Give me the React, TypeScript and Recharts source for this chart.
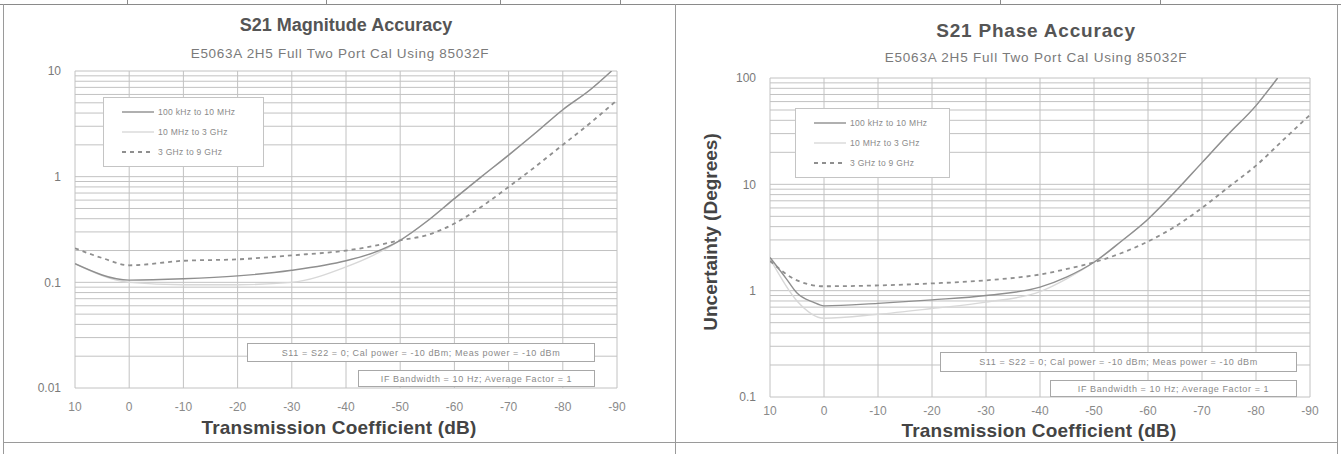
import React from 'react';
import { LineChart, Line, XAxis, YAxis, CartesianGrid, Legend } from 'recharts';

const FONT = 'Arial, "Liberation Sans", Helvetica, sans-serif';

// shared x axis (transmission coefficient, dB)
const xTicks = [10, 0, -10, -20, -30, -40, -50, -60, -70, -80, -90];
const xTickLabels = ['10', '0', '-10', '-20', '-30', '-40', '-50', '-60', '-70', '-80', '-90'];

const seriesNames = ['100 kHz to 10 MHz', '10 MHz to 3 GHz', '3 GHz to 9 GHz'];

// S21 magnitude accuracy (dB), log axis
const magDecades = [0.01, 0.1, 1, 10];
const magSolidX = [10, 0, -10, -20, -30, -40, -45, -50, -55, -60, -65, -70, -75, -80, -85, -89];
const magSolidY = [0.15, 0.105, 0.108, 0.115, 0.13, 0.16, 0.19, 0.25, 0.38, 0.62, 1.0, 1.6, 2.6, 4.3, 6.6, 10];
const magFaintX = [10, 0, -10, -20, -30, -40, -45, -50, -55, -60, -65, -70, -75, -80, -85, -89];
const magFaintY = [0.15, 0.1, 0.095, 0.095, 0.1, 0.14, 0.18, 0.25, 0.38, 0.62, 1.0, 1.6, 2.6, 4.3, 6.6, 10];
const magDashX = [10, 5, 0, -10, -20, -30, -40, -45, -50, -55, -60, -65, -70, -75, -80, -85, -90];
const magDashY = [0.21, 0.17, 0.145, 0.16, 0.165, 0.18, 0.2, 0.22, 0.25, 0.28, 0.36, 0.52, 0.8, 1.25, 2.0, 3.2, 5.3];

// S21 phase accuracy (degrees), log axis
const phaseDecades = [0.1, 1, 10, 100];
const phaseSolidX = [10, 7, 5, 2, 0, -10, -20, -30, -40, -45, -50, -55, -60, -65, -70, -75, -80, -84];
const phaseSolidY = [2.05, 1.3, 0.95, 0.78, 0.72, 0.76, 0.82, 0.9, 1.08, 1.35, 1.85, 2.9, 4.7, 8.5, 16, 30, 55, 100];
const phaseFaintX = [10, 5, 0, -10, -20, -30, -40, -45, -50, -55, -60, -65, -70, -75, -80, -84];
const phaseFaintY = [2.0, 0.8, 0.55, 0.6, 0.68, 0.78, 0.98, 1.3, 1.85, 2.9, 4.7, 8.5, 16, 30, 55, 100];
const phaseDashX = [10, 5, 0, -10, -20, -30, -40, -45, -50, -55, -60, -65, -70, -75, -80, -85, -90];
const phaseDashY = [1.9, 1.25, 1.1, 1.12, 1.17, 1.25, 1.42, 1.6, 1.85, 2.25, 2.9, 4, 6, 9.5, 15, 26, 45];

const pairs = (xs: number[], ys: number[]) => xs.map((x, i) => ({ x, y: ys[i] }));

// 1..9 x each decade, used for the log grid
const logGrid = (decades: number[]) => {
  const out: number[] = [];
  decades.forEach((d, i) => {
    if (i === decades.length - 1) {
      out.push(d);
      return;
    }
    for (let m = 1; m <= 9; m++) out.push(Number((d * m).toPrecision(3)));
  });
  return out;
};

const styles = [
  { stroke: '#8f8f8f', dash: undefined as string | undefined, width: 1.4 },
  { stroke: '#d8d8d8', dash: undefined as string | undefined, width: 1.4 },
  { stroke: '#8f8f8f', dash: '4 4', width: 1.8 },
];

const LegendBox = ({ width }: { width: number }) => (
  <div
    style={{
      width,
      background: '#fff',
      border: '1px solid #c4c4c4',
      padding: '4px 0 4px 0',
      fontFamily: FONT,
      fontSize: 8.5,
      color: '#8a8a8a',
      boxSizing: 'border-box',
    }}
  >
    {seriesNames.map((name, i) => (
      <div key={name} style={{ display: 'flex', alignItems: 'center', height: 20 }}>
        <svg width={46} height={8} style={{ marginLeft: 6 }}>
          <line
            x1={12}
            y1={4}
            x2={44}
            y2={4}
            stroke={styles[i].stroke}
            strokeWidth={styles[i].width}
            strokeDasharray={styles[i].dash}
          />
        </svg>
        <span style={{ marginLeft: 2, letterSpacing: 0.3 }}>{name}</span>
      </div>
    ))}
  </div>
);

type ChartProps = {
  left: number;
  width: number;
  margin: { top: number; right: number; bottom: number; left: number };
  yAxisWidth: number;
  xTickMargin: number;
  decades: number[];
  solid: { x: number; y: number }[];
  faint: { x: number; y: number }[];
  dashed: { x: number; y: number }[];
  legendPos: { left: number; top: number; width: number };
};

const AccuracyChart = ({ left, width, margin, yAxisWidth, xTickMargin, decades, solid, faint, dashed, legendPos }: ChartProps) => {
  const grid = logGrid(decades);
  const isDecade = (v: number) => decades.some((d) => Math.abs(d - v) < 1e-9);
  return (
    <div style={{ position: 'absolute', left, top: 0 }}>
      <LineChart width={width} height={454} margin={margin}>
        <CartesianGrid stroke="#c2c2c2" strokeWidth={1} />
        <XAxis
          dataKey="x"
          type="number"
          domain={[-90, 10]}
          reversed
          ticks={xTicks}
          interval={0}
          allowDataOverflow
          tickFormatter={(v: number) => xTickLabels[xTicks.indexOf(v)] ?? ''}
          axisLine={false}
          tickLine={false}
          tickSize={0}
          tickMargin={xTickMargin}
          height={30}
          tick={{ fill: '#8a8a8a', fontSize: 12, fontFamily: FONT }}
        />
        <YAxis
          type="number"
          scale="log"
          domain={[decades[0], decades[decades.length - 1]]}
          ticks={grid}
          interval={0}
          allowDataOverflow
          tickFormatter={(v: number) => (isDecade(v) ? String(v) : '')}
          axisLine={false}
          tickLine={false}
          tickSize={0}
          tickMargin={14}
          width={yAxisWidth}
          tick={{ fill: '#7a7a7a', fontSize: 12, fontFamily: FONT }}
        />
        <Legend
          layout="vertical"
          align="center"
          verticalAlign="middle"
          wrapperStyle={{ left: legendPos.left, top: legendPos.top, width: legendPos.width }}
          content={() => <LegendBox width={legendPos.width} />}
        />
        <Line
          data={faint}
          dataKey="y"
          name={seriesNames[1]}
          type="monotone"
          stroke={styles[1].stroke}
          strokeWidth={styles[1].width}
          dot={false}
          isAnimationActive={false}
        />
        <Line
          data={solid}
          dataKey="y"
          name={seriesNames[0]}
          type="monotone"
          stroke={styles[0].stroke}
          strokeWidth={styles[0].width}
          dot={false}
          isAnimationActive={false}
        />
        <Line
          data={dashed}
          dataKey="y"
          name={seriesNames[2]}
          type="monotone"
          stroke={styles[2].stroke}
          strokeWidth={styles[2].width}
          strokeDasharray={styles[2].dash}
          dot={false}
          isAnimationActive={false}
        />
      </LineChart>
    </div>
  );
};

const Text = ({ x, y, children, size, bold, color, spacing }: any) => (
  <div
    style={{
      position: 'absolute',
      left: x,
      top: y,
      transform: 'translate(-50%, -50%)',
      whiteSpace: 'nowrap',
      fontFamily: FONT,
      fontSize: size,
      fontWeight: bold ? 700 : 400,
      color,
      letterSpacing: spacing ?? 0,
    }}
  >
    {children}
  </div>
);

const NoteBox = ({ x, y, w, h, children }: any) => (
  <div
    style={{
      position: 'absolute',
      left: x,
      top: y,
      width: w,
      height: h,
      boxSizing: 'border-box',
      border: '1px solid #a8a8a8',
      background: '#fff',
      display: 'flex',
      alignItems: 'center',
      justifyContent: 'center',
      fontFamily: FONT,
      fontSize: 9,
      letterSpacing: 0.6,
      color: '#8a8a8a',
      whiteSpace: 'nowrap',
    }}
  >
    {children}
  </div>
);

const note1 = 'S11 = S22 = 0; Cal power = -10 dBm; Meas power = -10 dBm';
const note2 = 'IF Bandwidth = 10 Hz; Average Factor = 1';
const subtitle = 'E5063A 2H5 Full Two Port Cal Using 85032F';

export default function App() {
  return (
    <div style={{ position: 'absolute', left: 0, top: 0, width: 1341, height: 454, background: '#fff', overflow: 'hidden' }}>
      {/* page frame from the scanned table */}
      <div style={{ position: 'absolute', left: 0, top: 4, width: 1341, height: 1, background: '#8a8a8a' }} />
      {[127, 326, 500, 620, 1000, 1160].map((x) => (
        <div key={x} style={{ position: 'absolute', left: x, top: 0, width: 1, height: 5, background: '#8a8a8a' }} />
      ))}
      <div style={{ position: 'absolute', left: 3, top: 4, width: 1, height: 450, background: '#9a9a9a' }} />
      <div style={{ position: 'absolute', left: 675, top: 4, width: 1, height: 450, background: '#9a9a9a' }} />
      <div style={{ position: 'absolute', left: 1337, top: 4, width: 1, height: 450, background: '#9a9a9a' }} />
      <div style={{ position: 'absolute', left: 3, top: 442, width: 1335, height: 1, background: '#9a9a9a' }} />

      <AccuracyChart
        left={0}
        width={670}
        margin={{ top: 71, right: 53, bottom: 36, left: 15 }}
        yAxisWidth={60}
        xTickMargin={14}
        decades={magDecades}
        solid={pairs(magSolidX, magSolidY)}
        faint={pairs(magFaintX, magFaintY)}
        dashed={pairs(magDashX, magDashY)}
        legendPos={{ left: 103, top: 97, width: 161 }}
      />
      <AccuracyChart
        left={670}
        width={671}
        margin={{ top: 78, right: 31, bottom: 27, left: 30 }}
        yAxisWidth={70}
        xTickMargin={9}
        decades={phaseDecades}
        solid={pairs(phaseSolidX, phaseSolidY)}
        faint={pairs(phaseFaintX, phaseFaintY)}
        dashed={pairs(phaseDashX, phaseDashY)}
        legendPos={{ left: 125, top: 108, width: 155 }}
      />

      <Text x={346} y={25} size={18} bold color="#555">S21 Magnitude Accuracy</Text>
      <Text x={340} y={53} size={13.5} color="#7a7a7a" spacing={0.7}>{subtitle}</Text>
      <Text x={339} y={428} size={19} bold color="#444" spacing={0.2}>Transmission Coefficient (dB)</Text>

      <Text x={1036} y={31} size={19} bold color="#555" spacing={0.8}>S21 Phase Accuracy</Text>
      <Text x={1036} y={57} size={13.5} color="#7a7a7a" spacing={0.8}>{subtitle}</Text>
      <Text x={1039} y={431} size={19} bold color="#444" spacing={0.2}>Transmission Coefficient (dB)</Text>
      <div
        style={{
          position: 'absolute',
          left: 711,
          top: 232,
          transform: 'translate(-50%, -50%) rotate(-90deg)',
          whiteSpace: 'nowrap',
          fontFamily: FONT,
          fontSize: 19,
          fontWeight: 700,
          color: '#444',
        }}
      >
        Uncertainty (Degrees)
      </div>

      <NoteBox x={247} y={343} w={348} h={19}>{note1}</NoteBox>
      <NoteBox x={358} y={370} w={237} h={17}>{note2}</NoteBox>
      <NoteBox x={940} y={352} w={357} h={20}>{note1}</NoteBox>
      <NoteBox x={1050} y={380} w={247} h={17}>{note2}</NoteBox>
    </div>
  );
}
